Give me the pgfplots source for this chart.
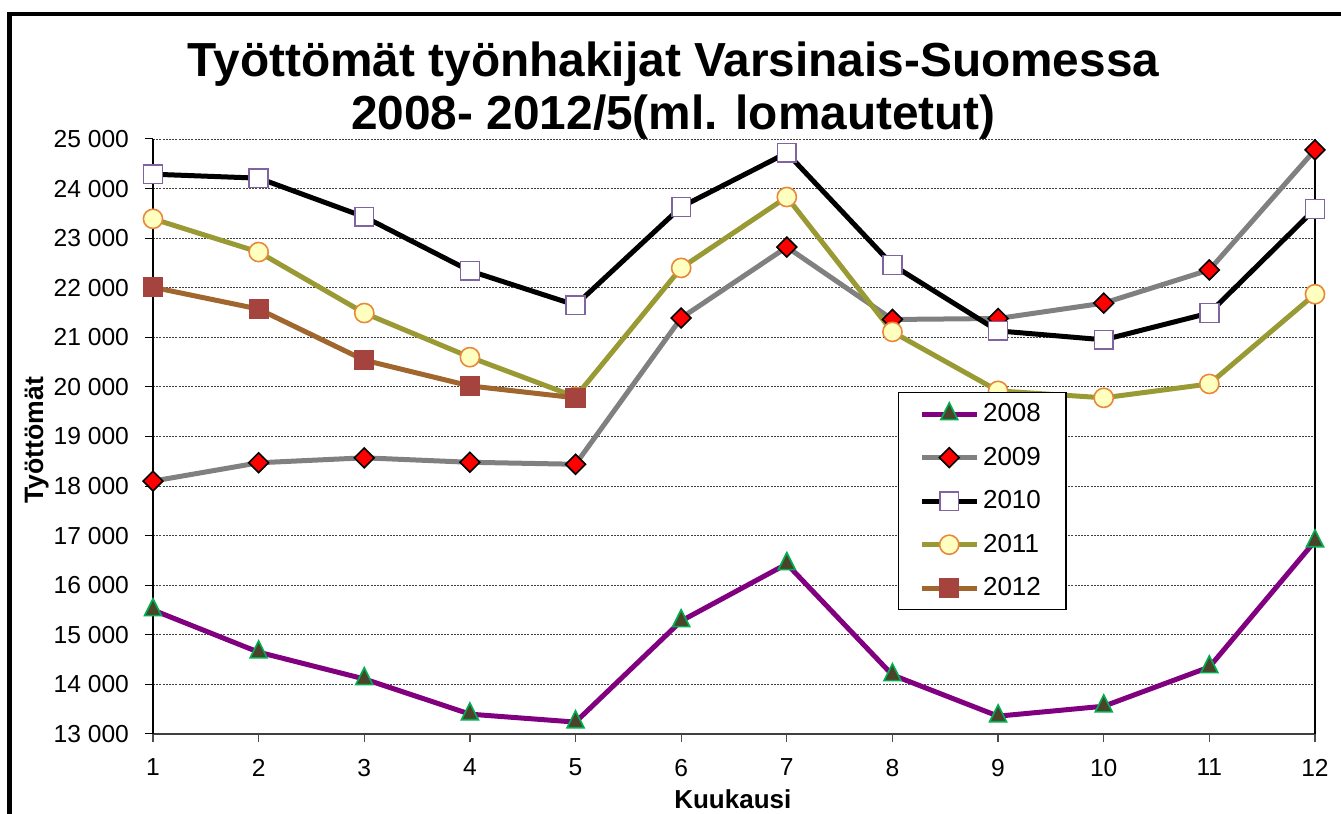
\documentclass[border=0pt]{standalone}
\usepackage{fontspec}
\setmainfont{Liberation Sans}
\usepackage{pgfplots}
\pgfplotsset{compat=1.18}
\definecolor{c08}{HTML}{800080}
\definecolor{c08f}{HTML}{4A452A}
\definecolor{c08e}{HTML}{00B050}
\definecolor{c09}{HTML}{808080}
\definecolor{c10e}{HTML}{8064A2}
\definecolor{c11}{HTML}{9A9A35}
\definecolor{c11f}{HTML}{FFFFC0}
\definecolor{c11e}{HTML}{E8883A}
\definecolor{c12}{HTML}{A0662E}
\definecolor{c12f}{HTML}{A5433F}
\begin{document}
\begin{tikzpicture}[x=1pt,y=1pt]
\begin{axis}[
  at={(0,0)}, anchor=south west,
  width=581pt, height=297.5pt, scale only axis,
  xmin=1, xmax=12, ymin=13000, ymax=25000,
  xtick={1,...,12}, ytick={13000,14000,...,25000},
  scaled y ticks=false,
  axis x line*=bottom, axis y line*=left,
  x axis line style={-, line width=1pt, color=black!75},
  y axis line style={-, line width=0.6pt, color=black},
  tick align=outside, major tick length=4pt,
  xtick style={black!70, line width=0.6pt},
  ytick style={black, line width=0.5pt},
  ymajorgrids,
  major grid style={black!75, line width=0.45pt, dash pattern=on 1pt off 0.6pt},
  clip=false,
  yticklabel={\pgfmathprintnumber[fixed, precision=0, 1000 sep={\ }, assume math mode=true]{\tick}},
  xticklabel={\pgfmathprintnumber[assume math mode=true]{\tick}},
  ticklabel style={font=\fontsize{12.3}{14}\selectfont},
  yticklabel style={xshift=-4.5pt},
  xticklabel style={yshift=-5pt},
  xlabel={Kuukausi}, ylabel={Työttömät},
  every axis x label/.style={at={(axis description cs:0.499,-0.11)}, anchor=center, font=\fontsize{13}{15}\selectfont\bfseries},
  every axis y label/.style={at={(axis description cs:-0.1,0.494)}, rotate=90, anchor=center, font=\fontsize{13.3}{15}\selectfont\bfseries},
  title={Työttömät työnhakijat Varsinais-Suomessa\\2008- 2012/5(ml. lomautetut)},
  title style={at={(axis description cs:0.448,1.061)}, anchor=center, font=\fontsize{23.9}{26.5}\selectfont\bfseries, align=center},
  legend style={at={(rel axis cs:0.641,0.575)}, anchor=north west, draw=black, line width=0.6pt,
    font=\fontsize{13}{15}\selectfont, row sep=7.2pt, inner xsep=10.5pt, inner ysep=3.5pt,
    cells={anchor=west}},
  legend image code/.code={\draw[mark repeat=2,mark phase=2] plot coordinates {(0cm,0cm) (0.48cm,0cm) (0.96cm,0cm)};},
]
\addplot[c08, line width=2.5pt, mark=triangle*, mark size=4.9pt, mark options={yscale=1.15, fill=c08f, draw=c08e, line width=0.8pt}]
coordinates {(1,15500) (2,14650) (3,14110) (4,13400) (5,13240) (6,15280) (7,16430) (8,14190) (9,13360) (10,13560) (11,14350) (12,16890)};
\addlegendentry{2008}
\addplot[c09, line width=2.5pt, mark=square*, mark size=3.5pt, mark options={rotate=45, fill=red, draw=black, line width=0.8pt}]
coordinates {(1,18100) (2,18470) (3,18570) (4,18480) (5,18440) (6,21390) (7,22820) (8,21360) (9,21380) (10,21690) (11,22360) (12,24780)};
\addlegendentry{2009}
\addplot[black, line width=2.5pt, mark=square*, mark size=4.7pt, mark options={fill=white, draw=c10e, line width=0.8pt}]
coordinates {(1,24290) (2,24210) (3,23430) (4,22340) (5,21650) (6,23630) (7,24720) (8,22460) (9,21130) (10,20950) (11,21490) (12,23590)};
\addlegendentry{2010}
\addplot[c11, line width=2.5pt, mark=*, mark size=4.8pt, mark options={fill=c11f, draw=c11e, line width=0.8pt}]
coordinates {(1,23390) (2,22720) (3,21490) (4,20600) (5,19800) (6,22400) (7,23830) (8,21110) (9,19920) (10,19780) (11,20060) (12,21870)};
\addlegendentry{2011}
\addplot[c12, line width=2.5pt, mark=square*, mark size=4.8pt, mark options={fill=c12f, draw=c12f, line width=0.5pt}]
coordinates {(1,22010) (2,21570) (3,20540) (4,20020) (5,19780)};
\addlegendentry{2012}
\draw[black, line width=0.6pt] (rel axis cs:1,0) -- (rel axis cs:1,1);
\end{axis}
\draw[line width=2.3pt] (-71.75,-60) rectangle (700,360);
\pgfresetboundingbox
\path[use as bounding box] (-76.5,-40) rectangle (594,367);
\end{tikzpicture}
\end{document}
